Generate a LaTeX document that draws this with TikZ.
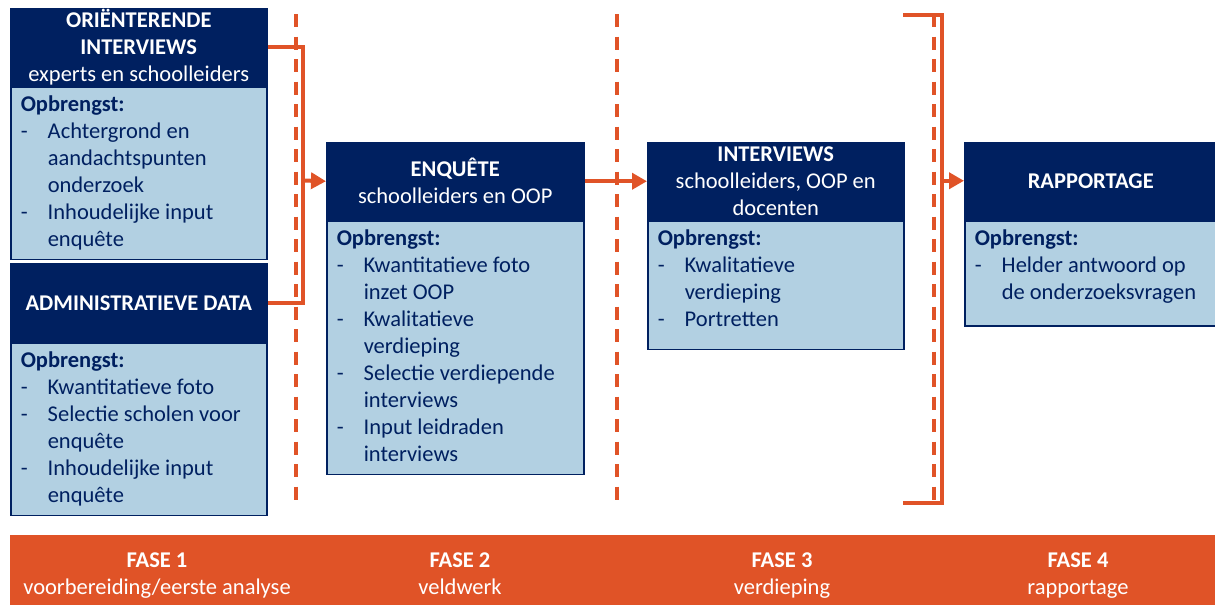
\documentclass[tikz,border=0pt]{standalone}
\usepackage{fontspec}
\setmainfont{Carlito}
\usetikzlibrary{arrows.meta}

\definecolor{navy}{HTML}{002060}
\definecolor{paleblue}{HTML}{B2D0E2}
\definecolor{flame}{HTML}{E05327}

\newcommand\boxfont{\fontsize{22.5}{27}\selectfont}
% body of a box: "Opbrengst:" followed by dash items, top aligned
\newcommand\opbrengst[3]{\parbox[c][#2pt][t]{#1pt}{\leftskip=10pt\parindent=0pt
  \rule{0pt}{24.5pt}\textbf{Opbrengst:}#3}}
\newcommand\itm[1]{\par\makebox[27pt][l]{-}#1}
\newcommand\cnt[1]{\par\hspace*{27pt}#1}

\begin{document}
\begin{tikzpicture}[x=1pt,y=-1pt,
  hdr/.style={draw=navy, fill=navy, text=white, line width=1.5pt,
    anchor=north west, inner sep=0pt, align=center, font=\boxfont},
  bodyb/.style={draw=navy, fill=paleblue, text=navy, line width=1.5pt,
    anchor=north west, inner sep=0pt, font=\boxfont},
  phase/.style={text=white, align=center, font=\boxfont, inner sep=0pt},
  conn/.style={draw=flame, line width=4pt, line join=miter},
  arrow/.style={conn, -{Triangle[length=15pt,width=16pt]}},
  divider/.style={draw=flame, line width=3.2pt, dash pattern=on 13pt off 9.5pt}]

\useasboundingbox (0,0) rectangle (1215,605);

% phase dividers
\draw[divider] (296,14) -- (296,507);
\draw[divider] (617,14) -- (617,507);
\draw[divider] (934,14) -- (934,503);

% fase 1
\node[hdr, minimum width=256, minimum height=77] (ori) at (10,8)
  {\textbf{ORIËNTERENDE}\\\textbf{INTERVIEWS}\\experts en schoolleiders};
\node[bodyb] (orib) at (ori.south west) {\opbrengst{256}{172}{%
  \itm{Achtergrond en}\cnt{aandachtspunten}\cnt{onderzoek}%
  \itm{Inhoudelijke input}\cnt{enquête}}};

\node[hdr, minimum width=256, minimum height=78] (adm) at (10,263)
  {\textbf{ADMINISTRATIEVE DATA}};
\node[bodyb] (admb) at (adm.south west) {\opbrengst{256}{172}{%
  \itm{Kwantitatieve foto}\itm{Selectie scholen voor}\cnt{enquête}%
  \itm{Inhoudelijke input}\cnt{enquête}}};

% fase 2
\node[hdr, minimum width=257, minimum height=77] (enq) at (326,142)
  {\textbf{ENQUÊTE}\\schoolleiders en OOP};
\node[bodyb] (enqb) at (enq.south west) {\opbrengst{257}{253}{%
  \itm{Kwantitatieve foto}\cnt{inzet OOP}\itm{Kwalitatieve}\cnt{verdieping}%
  \itm{Selectie verdiepende}\cnt{interviews}\itm{Input leidraden}\cnt{interviews}}};

% fase 3
\node[hdr, minimum width=256, minimum height=77] (int) at (647,142)
  {\textbf{INTERVIEWS}\\schoolleiders, OOP en\\docenten};
\node[bodyb] (intb) at (int.south west) {\opbrengst{256}{128}{%
  \itm{Kwalitatieve}\cnt{verdieping}\itm{Portretten}}};

% fase 4
\node[hdr, minimum width=252, minimum height=77] (rap) at (964,141.5)
  {\textbf{RAPPORTAGE}};
\node[bodyb] (rapb) at (rap.south west) {\opbrengst{252}{105}{%
  \itm{Helder antwoord op}\cnt{de onderzoeksvragen}}};

% connectors
\coordinate (j1) at (303,180.5);
\draw[conn] (ori.east) -| (j1) |- (adm.east);
\draw[arrow] (j1) -- (enq.west);
\draw[arrow] (enq.east) -- (int.west);

\coordinate (btop) at (903,15);
\coordinate (bbot) at (903,503);
\coordinate (bmid) at (942,180);
\draw[conn] (btop) -| (bmid) |- (bbot);
\draw[arrow] (rap.west -| bmid) -- (rap.west);

% phase bar
\node[fill=flame, anchor=north west, minimum width=1205, minimum height=70,
  inner sep=0pt] (bar) at (10,535) {};
\node[phase] (f1) at (157,576) {\textbf{FASE 1}\strut\\voorbereiding/eerste analyse\strut};
\node[phase] (f2) at (460,576) {\textbf{FASE 2}\strut\\veldwerk\strut};
\node[phase] (f3) at (782,576) {\textbf{FASE 3}\strut\\verdieping\strut};
\node[phase] (f4) at (1078,576) {\textbf{FASE 4}\strut\\rapportage\strut};
\end{tikzpicture}
\end{document}
